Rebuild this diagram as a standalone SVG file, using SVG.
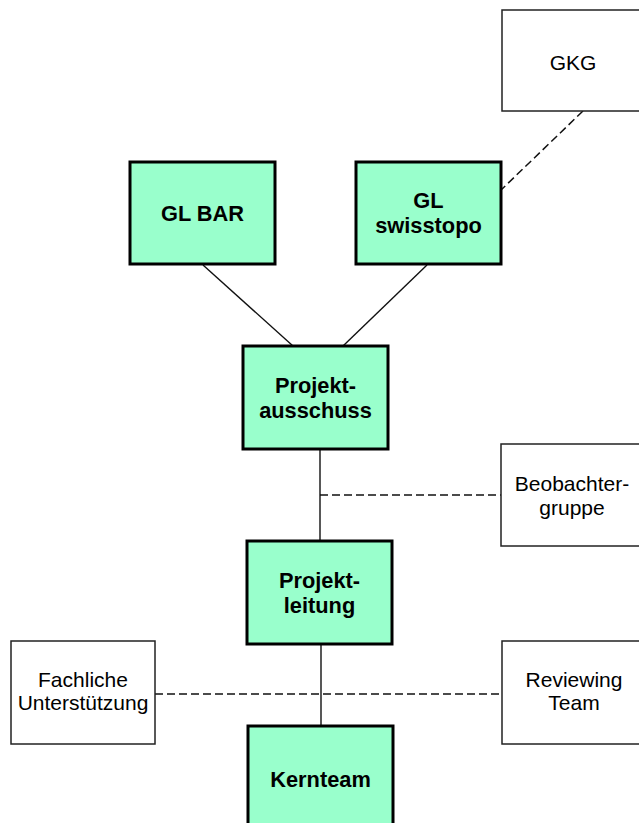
<svg xmlns="http://www.w3.org/2000/svg" width="639" height="823" viewBox="0 0 639 823">
<style>
.g{fill:#99FFCC;stroke:#000;stroke-width:3}
.w{fill:#fff;stroke:#222;stroke-width:1.5}
.b{font-family:"Liberation Sans",Arial,sans-serif;font-weight:bold;font-size:21.8px;fill:#000;text-anchor:middle}
.r{font-family:"Liberation Sans",Arial,sans-serif;font-size:21px;fill:#000;text-anchor:middle}
.s{stroke:#111;stroke-width:1.4;fill:none}
.d{stroke:#111;stroke-width:1.5;fill:none;stroke-dasharray:8 4}
</style>
<rect width="639" height="823" fill="#fff"/>
<g id="connectors">
<line class="s" x1="203" y1="265" x2="293" y2="346"/>
<line class="s" x1="427" y1="265" x2="343" y2="346"/>
<line class="d" x1="583" y1="111" x2="501" y2="190"/>
<line class="s" x1="320" y1="449" x2="320" y2="541"/>
<line class="d" x1="320" y1="495" x2="501" y2="495"/>
<line class="s" x1="321" y1="644" x2="321" y2="726"/>
<line class="d" x1="155" y1="694" x2="502" y2="694"/>
</g>
<g id="gkg">
<rect class="w" x="502" y="10" width="145" height="101"/>
<text class="r" x="573" y="70">GKG</text>
</g>
<g id="gl-bar">
<rect class="g" x="130" y="162" width="145" height="102"/>
<text class="b" x="202.5" y="221">GL BAR</text>
</g>
<g id="gl-swisstopo">
<rect class="g" x="356" y="162" width="145" height="102"/>
<text class="b" x="428.5" y="208">GL</text>
<text class="b" x="428.5" y="233">swisstopo</text>
</g>
<g id="projektausschuss">
<rect class="g" x="243" y="346" width="145" height="103"/>
<text class="b" x="315.5" y="393">Projekt-</text>
<text class="b" x="315.5" y="418">ausschuss</text>
</g>
<g id="beobachtergruppe">
<rect class="w" x="501" y="444" width="145" height="102"/>
<text class="r" x="572" y="491">Beobachter-</text>
<text class="r" x="572" y="515">gruppe</text>
</g>
<g id="projektleitung">
<rect class="g" x="247" y="541" width="145" height="103"/>
<text class="b" x="319.5" y="588">Projekt-</text>
<text class="b" x="319.5" y="613">leitung</text>
</g>
<g id="fachliche-unterstuetzung">
<rect class="w" x="11" y="641" width="144" height="103"/>
<text class="r" x="83" y="687">Fachliche</text>
<text class="r" x="83" y="710">Unterstützung</text>
</g>
<g id="reviewing-team">
<rect class="w" x="502" y="641" width="145" height="103"/>
<text class="r" x="574" y="687">Reviewing</text>
<text class="r" x="574" y="710">Team</text>
</g>
<g id="kernteam">
<rect class="g" x="248" y="726" width="145" height="103"/>
<text class="b" x="320.5" y="787">Kernteam</text>
</g>
</svg>
